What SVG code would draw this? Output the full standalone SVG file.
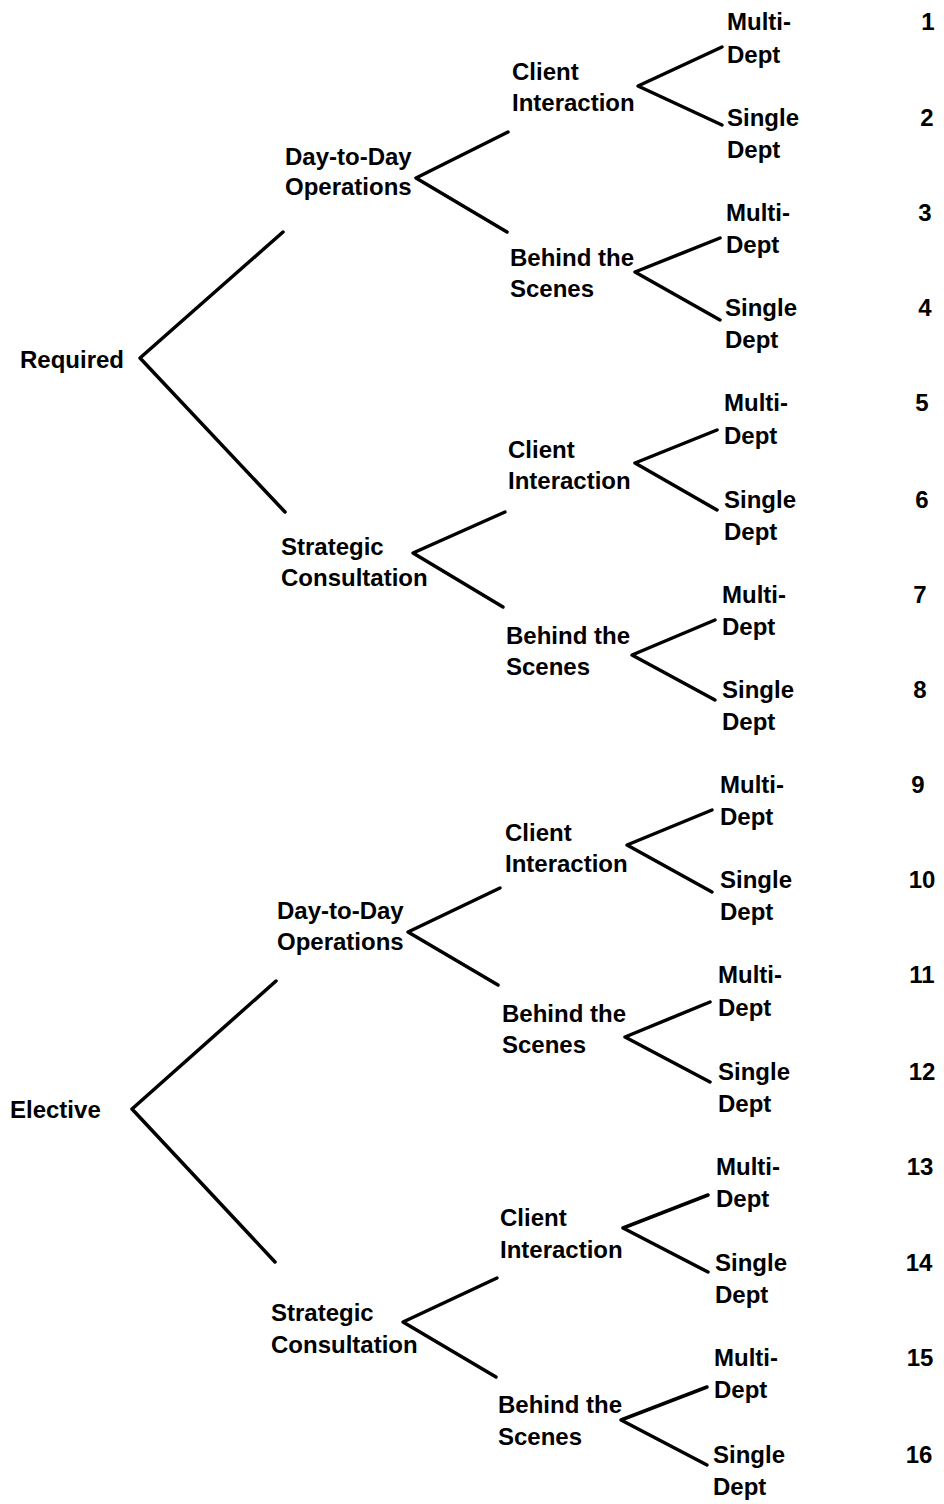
<svg xmlns="http://www.w3.org/2000/svg" width="944" height="1504" viewBox="0 0 944 1504">
<style>
text{font-family:"Liberation Sans",Arial,sans-serif;font-weight:bold;font-size:24px;fill:#000}
.n{text-anchor:middle}
.c{fill:none;stroke:#000;stroke-width:3.5;stroke-linecap:round;stroke-linejoin:round}
</style>
<rect width="944" height="1504" fill="#fff"/>
<g id="connectors" class="c">
<polyline points="283,232 140,358 285,512"/>
<polyline points="276,981 132,1109 275,1262"/>
<polyline points="508,132 416,178 507,232"/>
<polyline points="505,512 413,553 503,607"/>
<polyline points="500,888 408,932 498,985"/>
<polyline points="497,1278 403,1322 496,1377"/>
<polyline points="722,47 638,86 722,125"/>
<polyline points="720,238 635,272 720,320"/>
<polyline points="717,430 635,463 717,510"/>
<polyline points="715,620 632,655 715,700"/>
<polyline points="712,810 627,845 712,892"/>
<polyline points="710,1002 625,1037 710,1082"/>
<polyline points="708,1195 623,1228 708,1272"/>
<polyline points="707,1387 621,1420 707,1465"/>
</g>
<g id="required"><text x="20" y="368">Required</text></g>
<g id="elective"><text x="10" y="1118">Elective</text></g>
<g id="req-dtd"><text x="285" y="165">Day-to-Day</text><text x="285" y="195">Operations</text></g>
<g id="req-sc"><text x="281" y="555">Strategic</text><text x="281" y="586">Consultation</text></g>
<g id="ele-dtd"><text x="277" y="919">Day-to-Day</text><text x="277" y="950">Operations</text></g>
<g id="ele-sc"><text x="271" y="1321">Strategic</text><text x="271" y="1353">Consultation</text></g>
<g id="g1"><text x="512" y="80">Client</text><text x="512" y="111">Interaction</text></g>
<g id="g2"><text x="510" y="266">Behind the</text><text x="510" y="297">Scenes</text></g>
<g id="g3"><text x="508" y="458">Client</text><text x="508" y="489">Interaction</text></g>
<g id="g4"><text x="506" y="644">Behind the</text><text x="506" y="675">Scenes</text></g>
<g id="g5"><text x="505" y="841">Client</text><text x="505" y="872">Interaction</text></g>
<g id="g6"><text x="502" y="1022">Behind the</text><text x="502" y="1053">Scenes</text></g>
<g id="g7"><text x="500" y="1226">Client</text><text x="500" y="1258">Interaction</text></g>
<g id="g8"><text x="498" y="1413">Behind the</text><text x="498" y="1445">Scenes</text></g>
<g id="leaf1"><text x="727" y="30">Multi-</text><text x="727" y="63">Dept</text><text class="n" x="928" y="30">1</text></g>
<g id="leaf2"><text x="727" y="126">Single</text><text x="727" y="158">Dept</text><text class="n" x="927" y="126">2</text></g>
<g id="leaf3"><text x="726" y="221">Multi-</text><text x="726" y="253">Dept</text><text class="n" x="925" y="221">3</text></g>
<g id="leaf4"><text x="725" y="316">Single</text><text x="725" y="348">Dept</text><text class="n" x="925" y="316">4</text></g>
<g id="leaf5"><text x="724" y="411">Multi-</text><text x="724" y="444">Dept</text><text class="n" x="922" y="411">5</text></g>
<g id="leaf6"><text x="724" y="508">Single</text><text x="724" y="540">Dept</text><text class="n" x="922" y="508">6</text></g>
<g id="leaf7"><text x="722" y="603">Multi-</text><text x="722" y="635">Dept</text><text class="n" x="920" y="603">7</text></g>
<g id="leaf8"><text x="722" y="698">Single</text><text x="722" y="730">Dept</text><text class="n" x="920" y="698">8</text></g>
<g id="leaf9"><text x="720" y="793">Multi-</text><text x="720" y="825">Dept</text><text class="n" x="918" y="793">9</text></g>
<g id="leaf10"><text x="720" y="888">Single</text><text x="720" y="920">Dept</text><text class="n" x="922" y="888">10</text></g>
<g id="leaf11"><text x="718" y="983">Multi-</text><text x="718" y="1016">Dept</text><text class="n" x="922" y="983">11</text></g>
<g id="leaf12"><text x="718" y="1080">Single</text><text x="718" y="1112">Dept</text><text class="n" x="922" y="1080">12</text></g>
<g id="leaf13"><text x="716" y="1175">Multi-</text><text x="716" y="1207">Dept</text><text class="n" x="920" y="1175">13</text></g>
<g id="leaf14"><text x="715" y="1271">Single</text><text x="715" y="1303">Dept</text><text class="n" x="919" y="1271">14</text></g>
<g id="leaf15"><text x="714" y="1366">Multi-</text><text x="714" y="1398">Dept</text><text class="n" x="920" y="1366">15</text></g>
<g id="leaf16"><text x="713" y="1463">Single</text><text x="713" y="1495">Dept</text><text class="n" x="919" y="1463">16</text></g>
</svg>
